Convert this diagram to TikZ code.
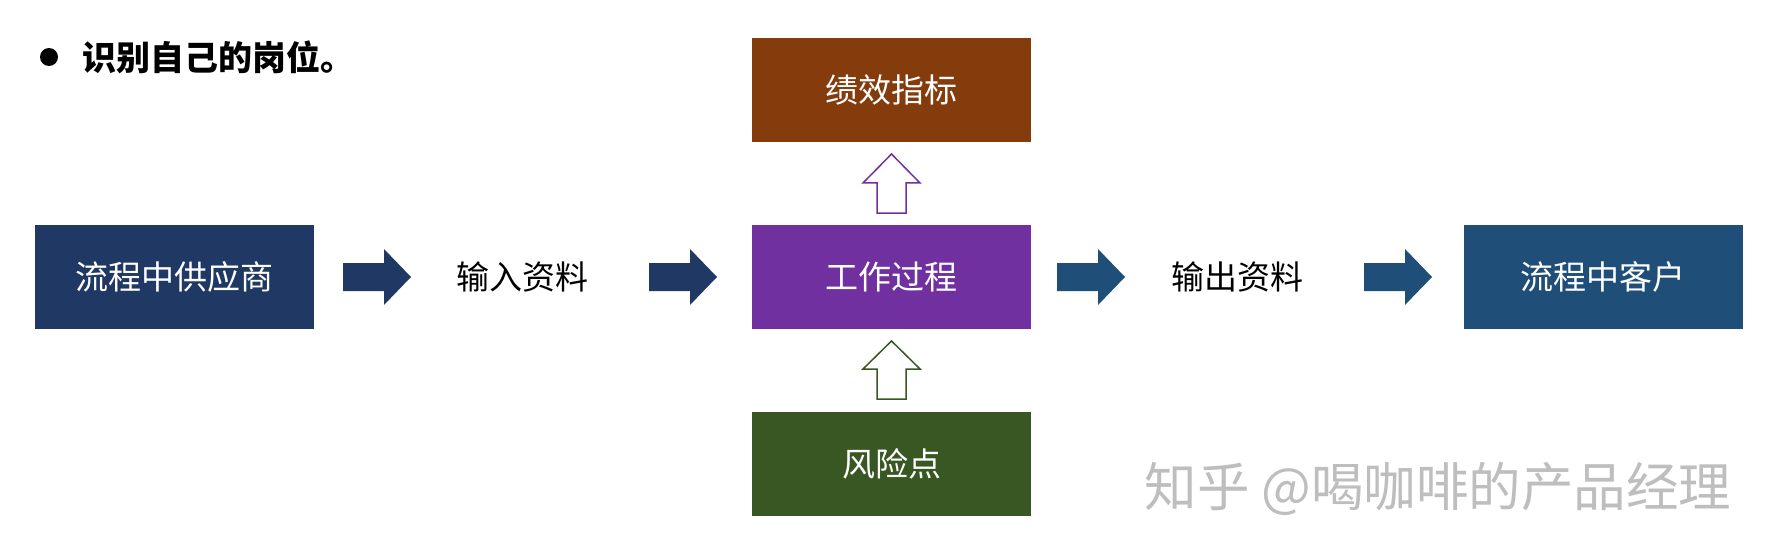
\documentclass[tikz,border=0pt]{standalone}
\usepackage{fontspec}
\newfontfamily\cjk{Noto Sans CJK SC}
\definecolor{navy}{HTML}{203864}
\definecolor{steel}{HTML}{1F4E79}
\definecolor{purp}{HTML}{7030A0}
\definecolor{brown}{HTML}{843C0C}
\definecolor{dgreen}{HTML}{385723}
\definecolor{wmark}{HTML}{BEBEBE}
\tikzset{
  box/.style={fill=#1, text=white, minimum width=279pt, minimum height=104pt, inner sep=0pt, font=\cjk\fontsize{33}{36}\selectfont},
  plain/.style={text=black, inner sep=0pt, font=\cjk\fontsize{33}{36}\selectfont},
  rarrow/.style={fill=#1},
  uarrow/.style={draw=#1, line width=1.5pt, fill=white, line join=miter}
}
\begin{document}
\begin{tikzpicture}[x=1pt,y=-1pt]
\useasboundingbox (0,0) rectangle (1773,559);
\fill[white] (0,0) rectangle (1773,559);
% title
\fill[black] (49,57) circle (9);
\node[anchor=west, inner sep=0pt, font=\cjk\bfseries\fontsize{34}{38}\selectfont] (title) at (82,57) {识别自己的岗位。};
% boxes
\node[box=navy] (sup) at (174.5,277) {流程中供应商};
\node[plain] (in) at (522,277) {输入资料};
\node[box=purp] (work) at (891.5,277) {工作过程};
\node[box=brown] (kpi) at (891.5,90) {绩效指标};
\node[box=dgreen] (risk) at (891.5,464) {风险点};
\node[plain] (out) at (1237,277) {输出资料};
\node[box=steel] (cust) at (1603,277) {流程中客户};
% right block arrows
\foreach \x/\c in {343/navy,649/navy,1057/steel,1364/steel}{
  \fill[rarrow=\c] (\x,263) -- (\x+41,263) -- (\x+41,249) -- (\x+68,277) -- (\x+41,305) -- (\x+41,291) -- (\x,291) -- cycle;
}
% up block arrows
\draw[uarrow=purp] (877,213) -- (877,183) -- (863,183) -- (891.5,154) -- (920,183) -- (906,183) -- (906,213) -- cycle;
\draw[uarrow=dgreen] (877,399) -- (877,369) -- (863,369) -- (891.5,341) -- (920,369) -- (906,369) -- (906,399) -- cycle;
% watermark
\node[text=wmark, inner sep=0pt, font=\cjk\fontsize{52.5}{56}\selectfont] (wm) at (1438,489) {知乎 @喝咖啡的产品经理};
\end{tikzpicture}
\end{document}
